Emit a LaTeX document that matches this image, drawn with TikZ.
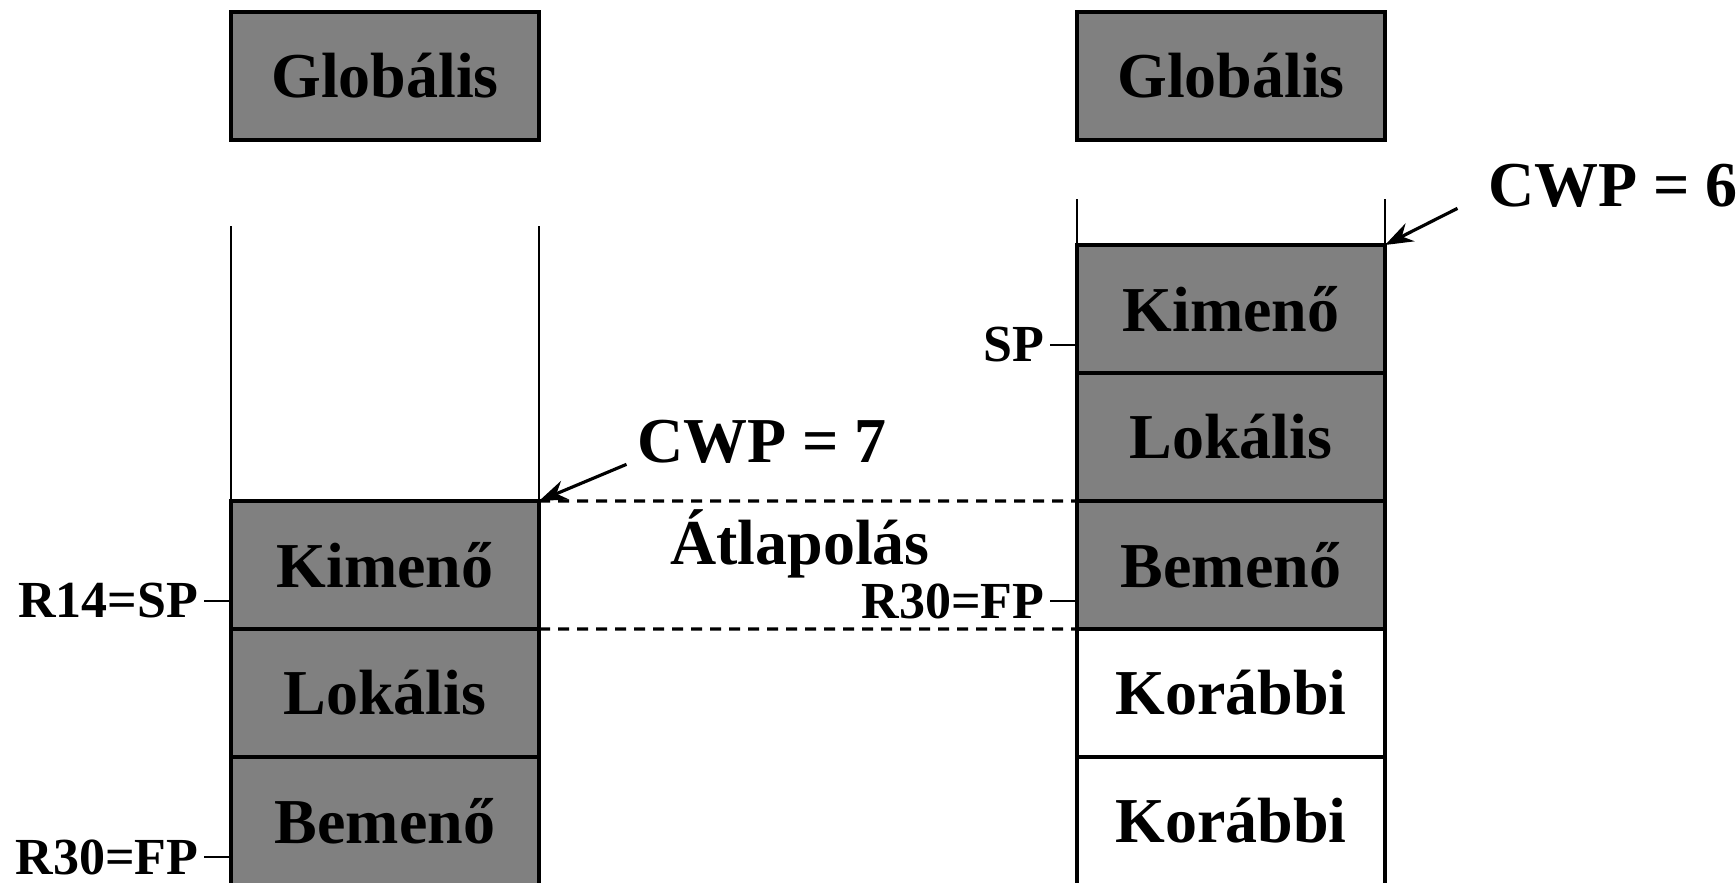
\documentclass[tikz,border=0pt]{standalone}
\usepackage{fontspec}
\setmainfont{Liberation Serif}
\usepackage{tikz}
\usetikzlibrary{arrows.meta,positioning}
\definecolor{cellgray}{RGB}{128,128,128}
\tikzset{
  cell/.style={draw=black,line width=1.0pt,fill=cellgray,minimum width=3.08cm,minimum height=1.28cm,inner sep=0pt,outer sep=0pt,font=\fontsize{18.2}{20}\selectfont\bfseries},
  oldcell/.style={cell,fill=white},
  wall/.style={draw=black,line width=0.8pt},
  tick/.style={draw=black,line width=0.8pt},
  reglbl/.style={inner xsep=0.5mm,inner ysep=0pt,font=\fontsize{14.8}{16}\selectfont\bfseries},
  bigtxt/.style={inner sep=0pt,font=\fontsize{18.2}{20}\selectfont\bfseries},
  ptr/.style={-{Stealth[length=2.8mm,width=2mm]},draw=black,line width=0.9pt},
  overlap/.style={draw=black,line width=0.9pt,dash pattern=on 1.1mm off 0.8mm}
}

\begin{document}
\begin{tikzpicture}[x=0.1mm,y=0.1mm]
\useasboundingbox (0,0) rectangle (1736,-883);
% ablak CWP = 7
\node[cell] (glob7) at (385,-76) {Globális};
\node[cell] (out7) at (385,-565) {Kimenő};
\node[cell,below=0pt of out7] (loc7) {Lokális};
\node[cell,below=0pt of loc7] (in7) {Bemenő};
\coordinate (top7) at (0,-226);
\draw[wall] (out7.north west) -- (out7.north west |- top7);
\draw[wall] (out7.north east) -- (out7.north east |- top7);
% ablak CWP = 6
\node[cell] (glob6) at (1231,-76) {Globális};
\node[cell] (out6) at (1231,-309) {Kimenő};
\node[cell,below=0pt of out6] (loc6) {Lokális};
\node[cell,below=0pt of loc6] (in6) {Bemenő};
\node[oldcell,below=0pt of in6] (old6a) {Korábbi};
\node[oldcell,below=0pt of old6a] (old6b) {Korábbi};
\coordinate (top6) at (0,-199);
\draw[wall] (out6.north west) -- (out6.north west |- top6);
\draw[wall] (out6.north east) -- (out6.north east |- top6);
% atlapolas
\draw[overlap] (out7.north east) -- (in6.north west);
\draw[overlap] (out7.south east) -- (in6.south west);
\node[bigtxt,anchor=base] (atl) at (800,-565) {Átlapolás};
% regiszterek
\coordinate (sp7) at ([yshift=2.8mm]out7.south west);
\coordinate (fp7) at ([yshift=2.8mm]in7.south west);
\coordinate (sp6) at ([yshift=2.8mm]out6.south west);
\coordinate (fp6) at ([yshift=2.8mm]in6.south west);
\node[reglbl,left=2.7mm of sp7] (sp7lbl) {R14=SP};
\node[reglbl,left=2.7mm of fp7] (fp7lbl) {R30=FP};
\node[reglbl,left=2.7mm of sp6] (sp6lbl) {SP};
\node[reglbl,left=2.7mm of fp6] (fp6lbl) {R30=FP};
\draw[tick] (sp7lbl) -- (sp7);
\draw[tick] (fp7lbl) -- (fp7);
\draw[tick] (sp6lbl) -- (sp6);
\draw[tick] (fp6lbl) -- (fp6);
% CWP mutatok
\node[bigtxt] (cwp7) at (762,-442) {CWP = 7};
\node[bigtxt] (cwp6) at (1613,-186) {CWP = 6};
\draw[ptr] ([xshift=-1mm]cwp7.south west) -- (out7.north east);
\draw[ptr] ([xshift=-3mm]cwp6.south west) -- (out6.north east);
\end{tikzpicture}
\end{document}
